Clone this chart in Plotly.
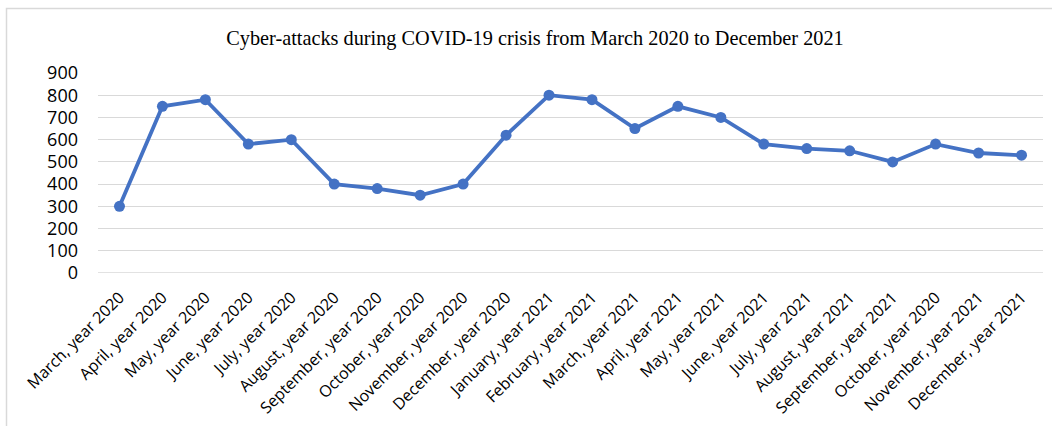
import plotly.graph_objects as go

months = [
    "March, year 2020", "April, year 2020", "May, year 2020", "June, year 2020",
    "July, year 2020", "August, year 2020", "September, year 2020", "October, year 2020",
    "November, year 2020", "December, year 2020", "January, year 2021", "February, year 2021",
    "March, year 2021", "April, year 2021", "May, year 2021", "June, year 2021",
    "July, year 2021", "August, year 2021", "September, year 2021", "October, year 2020",
    "November, year 2021", "December, year 2021",
]
attacks = [300, 750, 780, 580, 600, 400, 380, 350, 400, 620, 800,
           780, 650, 750, 700, 580, 560, 550, 500, 580, 540, 530]
y_ticks = [0, 100, 200, 300, 400, 500, 600, 700, 800, 900]

W, H = 1052, 426
L, R, T, B = 98, 9, 73, 153
pw, ph = W - L - R, H - T - B

fig = go.Figure(
    go.Scatter(
        x=list(range(len(months))),
        y=attacks,
        mode="lines+markers",
        line=dict(color="#4472C4", width=3.8),
        marker=dict(color="#4472C4", size=11),
        hoverinfo="skip",
    )
)

fig.update_layout(
    width=W,
    height=H,
    margin=dict(l=L, r=R, t=T, b=B),
    paper_bgcolor="white",
    plot_bgcolor="white",
    showlegend=False,
    font=dict(family="Open Sans, sans-serif", color="#000000"),
    title=dict(
        text="Cyber-attacks during COVID-19 crisis from March 2020 to December 2021",
        font=dict(family="Liberation Serif, Times New Roman, serif", size=20.3, color="#000000"),
        xref="container", x=535 / W, xanchor="center",
        yref="container", y=1 - 38 / H, yanchor="middle",
    ),
    xaxis=dict(
        range=[-0.5, len(months) - 0.5],
        tickmode="array",
        tickvals=list(range(len(months))),
        ticktext=months,
        tickangle=-45,
        tickfont=dict(size=16),
        showgrid=False,
        zeroline=False,
        showline=False,
        ticks="",
        ticklabelstandoff=11,
        fixedrange=True,
    ),
    yaxis=dict(
        range=[0, 900],
        tickmode="array",
        tickvals=y_ticks,
        tickfont=dict(size=18),
        showgrid=True,
        gridcolor="#D9D9D9",
        gridwidth=1.2,
        zeroline=False,
        showline=False,
        ticks="",
        ticklabelstandoff=19,
        fixedrange=True,
    ),
    shapes=[
        # baseline at zero
        dict(type="line", xref="paper", yref="y", x0=0, x1=1, y0=0, y1=0,
             line=dict(color="#D9D9D9", width=1.5), layer="below"),
        # chart frame
        dict(type="rect", xref="paper", yref="paper",
             x0=(6.5 - L) / pw, x1=(W + 20 - L) / pw,
             y0=-(B + 20) / ph, y1=(H - B - 8.5) / ph,
             line=dict(color="#D9D9D9", width=1.5), fillcolor="rgba(0,0,0,0)"),
    ],
)

fig.write_html("out.html", config={"displayModeBar": False})
